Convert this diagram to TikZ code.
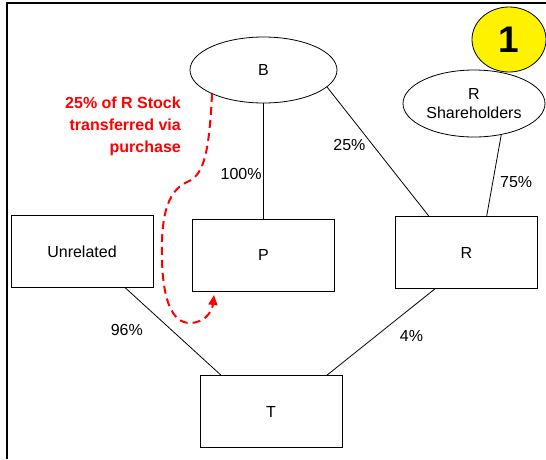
\documentclass[tikz,border=0pt]{standalone}
\usepackage{fontspec}
\setmainfont{Liberation Sans}
\usetikzlibrary{positioning,shapes.geometric,arrows.meta}
\begin{document}
\begin{tikzpicture}[x=1pt,y=-1pt,
	box/.style={draw, line width=0.8pt, minimum width=142pt, minimum height=72pt, inner sep=0pt, font=\fontsize{16}{19}\selectfont},
	owner/.style={draw, ellipse, line width=0.8pt, inner sep=0pt, font=\fontsize{16}{19}\selectfont, align=center},
	pct/.style={inner sep=0pt, font=\fontsize{16}{19}\selectfont},
	link/.style={line width=0.8pt}]
	
	\useasboundingbox (0,0) rectangle (546,459);
	\draw[line width=2pt] (6.5,459) -- (6.5,3.2) -- (546,3.2);
	
	% owners
	\node[owner, minimum width=147pt, minimum height=66pt] (b) at (263.5,70) {B};
	\node[owner, minimum width=142pt, minimum height=67pt] (rsh) at (474,103.5) {R\\Shareholders};
	\node[owner, fill=yellow, minimum width=74pt, minimum height=65pt, font=\bfseries\fontsize{37}{40}\selectfont] (one) at (509,39.5) {1};
	
	% companies
	\node[box] (unrel) at (82,251.5) {Unrelated};
	\node[box] (p) at (263.5,255.3) {P};
	\node[box] (r) at (466.5,252.5) {R};
	\node[box] (t) at (271,411.5) {T};
	
	% ownership lines
	\draw[link] (b) -- node[pct, pos=0.61, left=1.5pt] {100\%} (p);
	\draw[link] (b.-15) -- node[pct, pos=0.45, left=7pt] {25\%} (r.136);
	\draw[link] (rsh.-49) -- node[pct, pos=0.58, right=7pt] {75\%} (r.61);
	\draw[link] (unrel.-40) -- node[pct, pos=0.48, left=28pt] {96\%} (t.144);
	\draw[link] (r.229) -- node[pct, pos=0.55, right=24pt] {4\%} (t.33);
	
	% stock transfer
	\node[anchor=north east, inner sep=0pt, align=right, text=red, font=\bfseries\fontsize{16}{22}\selectfont] (note) at (181,96.6)
	{25\% of R Stock\\transferred via\\purchase};
	\coordinate (tip) at (214,295);
	\draw[red, line width=2pt, dash pattern=on 8pt off 5pt, -{Triangle[length=10pt,width=9pt]}]
	(b.205) .. controls (209,150) and (205,175) .. (187,182)
	.. controls (165,192) and (161,222) .. (162,260)
	.. controls (163,300) and (172,323) .. (190,323)
	.. controls (203,323) and (212,313) .. (tip);
\end{tikzpicture}
\end{document}
